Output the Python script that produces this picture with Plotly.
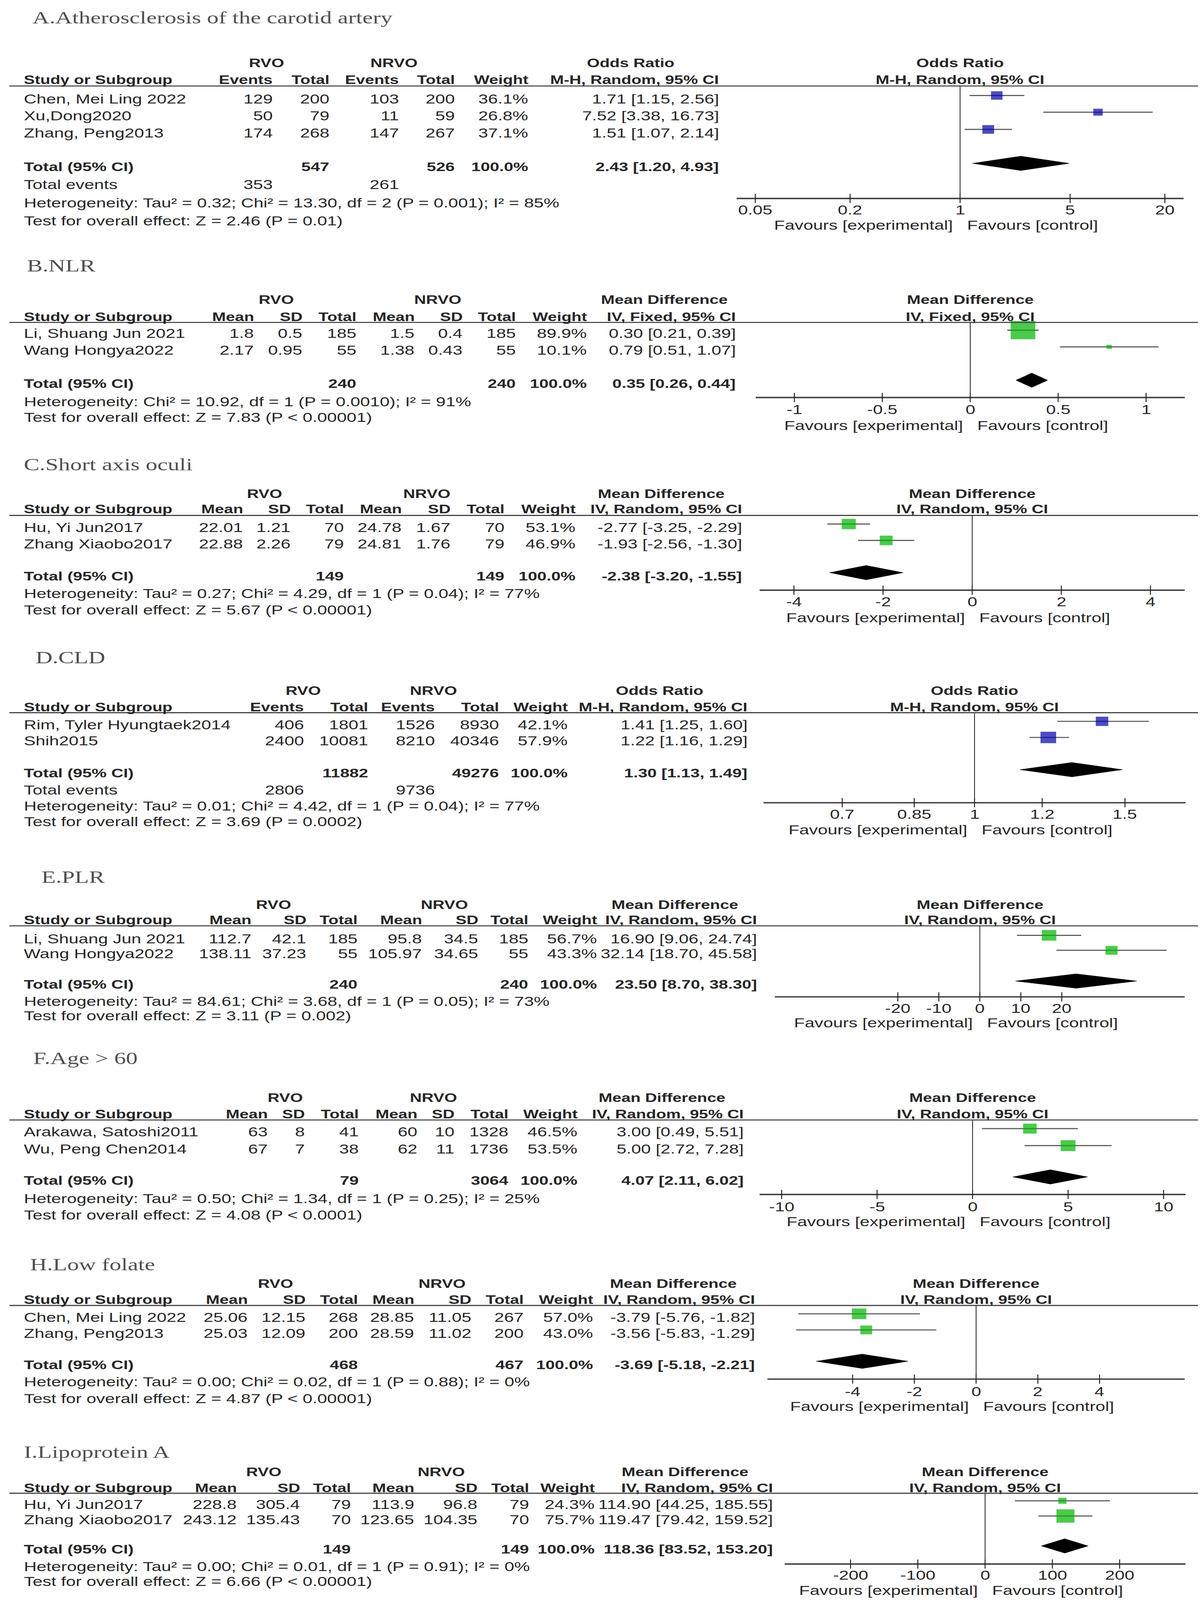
import math
import plotly.graph_objects as go

W, H = 3071, 5563
SANS = "Liberation Sans, Arial, Helvetica, sans-serif"
SERIF = "Liberation Serif, Times New Roman, serif"
TXT = "#262626"
TITLE_C = "#505050"
FS = 45
FS_HDR = 42
FS_TOT = 43
BLUE = "#0000A8"
GREEN = "#00B400"

# ======================= DATA =======================
# A. Atherosclerosis of the carotid artery (Odds Ratio, M-H random)
A_study = ["Chen, Mei Ling 2022", "Xu,Dong2020", "Zhang, Peng2013"]
A_rvo_events = [129, 50, 174]
A_rvo_total = [200, 79, 268]
A_nrvo_events = [103, 11, 147]
A_nrvo_total = [200, 59, 267]
A_weight = [36.1, 26.8, 37.1]
A_est = [1.71, 7.52, 1.51]
A_lo = [1.15, 3.38, 1.07]
A_hi = [2.56, 16.73, 2.14]
A_pooled = [2.43, 1.20, 4.93]
A_sum_total = [547, 526]
A_sum_events = [353, 261]
A_het = "Heterogeneity: Tau² = 0.32; Chi² = 13.30, df = 2 (P = 0.001); I² = 85%"
A_test = "Test for overall effect: Z = 2.46 (P = 0.01)"
A_ticks = [0.05, 0.2, 1, 5, 20]
A_ticktext = ["0.05", "0.2", "1", "5", "20"]

# B. NLR (Mean Difference, IV fixed)
B_study = ["Li, Shuang Jun 2021", "Wang Hongya2022"]
B_rvo_mean = [1.8, 2.17]
B_rvo_sd = [0.5, 0.95]
B_rvo_n = [185, 55]
B_nrvo_mean = [1.5, 1.38]
B_nrvo_sd = [0.4, 0.43]
B_nrvo_n = [185, 55]
B_weight = [89.9, 10.1]
B_est = [0.30, 0.79]
B_lo = [0.21, 0.51]
B_hi = [0.39, 1.07]
B_pooled = [0.35, 0.26, 0.44]
B_sum_total = [240, 240]
B_het = "Heterogeneity: Chi² = 10.92, df = 1 (P = 0.0010); I² = 91%"
B_test = "Test for overall effect: Z = 7.83 (P < 0.00001)"
B_ticks = [-1, -0.5, 0, 0.5, 1]
B_ticktext = ["-1", "-0.5", "0", "0.5", "1"]

# C. Short axis oculi
C_study = ["Hu, Yi Jun2017", "Zhang Xiaobo2017"]
C_rvo_mean = [22.01, 22.88]
C_rvo_sd = [1.21, 2.26]
C_rvo_n = [70, 79]
C_nrvo_mean = [24.78, 24.81]
C_nrvo_sd = [1.67, 1.76]
C_nrvo_n = [70, 79]
C_weight = [53.1, 46.9]
C_est = [-2.77, -1.93]
C_lo = [-3.25, -2.56]
C_hi = [-2.29, -1.30]
C_pooled = [-2.38, -3.20, -1.55]
C_sum_total = [149, 149]
C_het = "Heterogeneity: Tau² = 0.27; Chi² = 4.29, df = 1 (P = 0.04); I² = 77%"
C_test = "Test for overall effect: Z = 5.67 (P < 0.00001)"
C_ticks = [-4, -2, 0, 2, 4]
C_ticktext = ["-4", "-2", "0", "2", "4"]

# D. CLD (Odds Ratio)
D_study = ["Rim, Tyler Hyungtaek2014", "Shih2015"]
D_rvo_events = [406, 2400]
D_rvo_total = [1801, 10081]
D_nrvo_events = [1526, 8210]
D_nrvo_total = [8930, 40346]
D_weight = [42.1, 57.9]
D_est = [1.41, 1.22]
D_lo = [1.25, 1.16]
D_hi = [1.60, 1.29]
D_pooled = [1.30, 1.13, 1.49]
D_sum_total = [11882, 49276]
D_sum_events = [2806, 9736]
D_het = "Heterogeneity: Tau² = 0.01; Chi² = 4.42, df = 1 (P = 0.04); I² = 77%"
D_test = "Test for overall effect: Z = 3.69 (P = 0.0002)"
D_ticks = [0.7, 0.85, 1, 1.2, 1.5]
D_ticktext = ["0.7", "0.85", "1", "1.2", "1.5"]

# E. PLR
E_study = ["Li, Shuang Jun 2021", "Wang Hongya2022"]
E_rvo_mean = [112.7, 138.11]
E_rvo_sd = [42.1, 37.23]
E_rvo_n = [185, 55]
E_nrvo_mean = [95.8, 105.97]
E_nrvo_sd = [34.5, 34.65]
E_nrvo_n = [185, 55]
E_weight = [56.7, 43.3]
E_est = [16.90, 32.14]
E_lo = [9.06, 18.70]
E_hi = [24.74, 45.58]
E_pooled = [23.50, 8.70, 38.30]
E_sum_total = [240, 240]
E_het = "Heterogeneity: Tau² = 84.61; Chi² = 3.68, df = 1 (P = 0.05); I² = 73%"
E_test = "Test for overall effect: Z = 3.11 (P = 0.002)"
E_ticks = [-20, -10, 0, 10, 20]
E_ticktext = ["-20", "-10", "0", "10", "20"]

# F. Age > 60
F_study = ["Arakawa, Satoshi2011", "Wu, Peng Chen2014"]
F_rvo_mean = [63, 67]
F_rvo_sd = [8, 7]
F_rvo_n = [41, 38]
F_nrvo_mean = [60, 62]
F_nrvo_sd = [10, 11]
F_nrvo_n = [1328, 1736]
F_weight = [46.5, 53.5]
F_est = [3.00, 5.00]
F_lo = [0.49, 2.72]
F_hi = [5.51, 7.28]
F_pooled = [4.07, 2.11, 6.02]
F_sum_total = [79, 3064]
F_het = "Heterogeneity: Tau² = 0.50; Chi² = 1.34, df = 1 (P = 0.25); I² = 25%"
F_test = "Test for overall effect: Z = 4.08 (P < 0.0001)"
F_ticks = [-10, -5, 0, 5, 10]
F_ticktext = ["-10", "-5", "0", "5", "10"]

# H. Low folate
H_study = ["Chen, Mei Ling 2022", "Zhang, Peng2013"]
H_rvo_mean = [25.06, 25.03]
H_rvo_sd = [12.15, 12.09]
H_rvo_n = [268, 200]
H_nrvo_mean = [28.85, 28.59]
H_nrvo_sd = [11.05, 11.02]
H_nrvo_n = [267, 200]
H_weight = [57.0, 43.0]
H_est = [-3.79, -3.56]
H_lo = [-5.76, -5.83]
H_hi = [-1.82, -1.29]
H_pooled = [-3.69, -5.18, -2.21]
H_sum_total = [468, 467]
H_het = "Heterogeneity: Tau² = 0.00; Chi² = 0.02, df = 1 (P = 0.88); I² = 0%"
H_test = "Test for overall effect: Z = 4.87 (P < 0.00001)"
H_ticks = [-4, -2, 0, 2, 4]
H_ticktext = ["-4", "-2", "0", "2", "4"]

# I. Lipoprotein A
I_study = ["Hu, Yi Jun2017", "Zhang Xiaobo2017"]
I_rvo_mean = [228.8, 243.12]
I_rvo_sd = [305.4, 135.43]
I_rvo_n = [79, 70]
I_nrvo_mean = [113.9, 123.65]
I_nrvo_sd = [96.8, 104.35]
I_nrvo_n = [79, 70]
I_weight = [24.3, 75.7]
I_est = [114.90, 119.47]
I_lo = [44.25, 79.42]
I_hi = [185.55, 159.52]
I_pooled = [118.36, 83.52, 153.20]
I_sum_total = [149, 149]
I_het = "Heterogeneity: Tau² = 0.00; Chi² = 0.01, df = 1 (P = 0.91); I² = 0%"
I_test = "Test for overall effect: Z = 6.66 (P < 0.00001)"
I_ticks = [-200, -100, 0, 100, 200]
I_ticktext = ["-200", "-100", "0", "100", "200"]

# ======================= PANEL OPTIONS (built from the arrays) =======================
MD_R = "IV, Random, 95% CI"
PANELS = [
    dict(key="A", title="A.Atherosclerosis of the carotid artery", kind="bin", effect="Odds Ratio",
         method="M-H, Random, 95% CI", log=True, color=BLUE, study=A_study,
         cells=[A_rvo_events, A_rvo_total, A_nrvo_events, A_nrvo_total], weight=A_weight,
         est=A_est, lo=A_lo, hi=A_hi, pooled=A_pooled, sum_total=A_sum_total,
         sum_events=A_sum_events, het=A_het, test=A_test, ticks=A_ticks, ticktext=A_ticktext),
    dict(key="B", title="B.NLR", kind="cont", effect="Mean Difference", method="IV, Fixed, 95% CI",
         log=False, color=GREEN, study=B_study,
         cells=[B_rvo_mean, B_rvo_sd, B_rvo_n, B_nrvo_mean, B_nrvo_sd, B_nrvo_n], weight=B_weight,
         est=B_est, lo=B_lo, hi=B_hi, pooled=B_pooled, sum_total=B_sum_total,
         het=B_het, test=B_test, ticks=B_ticks, ticktext=B_ticktext),
    dict(key="C", title="C.Short axis oculi", kind="cont", effect="Mean Difference", method=MD_R,
         log=False, color=GREEN, study=C_study,
         cells=[C_rvo_mean, C_rvo_sd, C_rvo_n, C_nrvo_mean, C_nrvo_sd, C_nrvo_n], weight=C_weight,
         est=C_est, lo=C_lo, hi=C_hi, pooled=C_pooled, sum_total=C_sum_total,
         het=C_het, test=C_test, ticks=C_ticks, ticktext=C_ticktext),
    dict(key="D", title="D.CLD", kind="bin", effect="Odds Ratio", method="M-H, Random, 95% CI",
         log=True, color=BLUE, study=D_study,
         cells=[D_rvo_events, D_rvo_total, D_nrvo_events, D_nrvo_total], weight=D_weight,
         est=D_est, lo=D_lo, hi=D_hi, pooled=D_pooled, sum_total=D_sum_total,
         sum_events=D_sum_events, het=D_het, test=D_test, ticks=D_ticks, ticktext=D_ticktext),
    dict(key="E", title="E.PLR", kind="cont", effect="Mean Difference", method=MD_R,
         log=False, color=GREEN, study=E_study,
         cells=[E_rvo_mean, E_rvo_sd, E_rvo_n, E_nrvo_mean, E_nrvo_sd, E_nrvo_n], weight=E_weight,
         est=E_est, lo=E_lo, hi=E_hi, pooled=E_pooled, sum_total=E_sum_total,
         het=E_het, test=E_test, ticks=E_ticks, ticktext=E_ticktext),
    dict(key="F", title="F.Age > 60", kind="cont", effect="Mean Difference", method=MD_R,
         log=False, color=GREEN, study=F_study,
         cells=[F_rvo_mean, F_rvo_sd, F_rvo_n, F_nrvo_mean, F_nrvo_sd, F_nrvo_n], weight=F_weight,
         est=F_est, lo=F_lo, hi=F_hi, pooled=F_pooled, sum_total=F_sum_total,
         het=F_het, test=F_test, ticks=F_ticks, ticktext=F_ticktext),
    dict(key="H", title="H.Low folate", kind="cont", effect="Mean Difference", method=MD_R,
         log=False, color=GREEN, study=H_study,
         cells=[H_rvo_mean, H_rvo_sd, H_rvo_n, H_nrvo_mean, H_nrvo_sd, H_nrvo_n], weight=H_weight,
         est=H_est, lo=H_lo, hi=H_hi, pooled=H_pooled, sum_total=H_sum_total,
         het=H_het, test=H_test, ticks=H_ticks, ticktext=H_ticktext),
    dict(key="I", title="I.Lipoprotein A", kind="cont", effect="Mean Difference", method=MD_R,
         log=False, color=GREEN, study=I_study,
         cells=[I_rvo_mean, I_rvo_sd, I_rvo_n, I_nrvo_mean, I_nrvo_sd, I_nrvo_n], weight=I_weight,
         est=I_est, lo=I_lo, hi=I_hi, pooled=I_pooled, sum_total=I_sum_total,
         het=I_het, test=I_test, ticks=I_ticks, ticktext=I_ticktext),
]

# pixel geometry of each panel (layout only)
GEO = {
    "A": dict(title=(81, 62), grp=219, hdr=277, hline=299, rows=[344, 402, 462], total=580, events=643,
              het=705, test=767, axis=690, tick=731, fav=784,
              cols=[700, 845, 1023, 1166, 1354, 1842], grp_x=[682, 1008], eff_x=1614,
              dom=[1885, 3029], half=1.42, sq=30),
    "B": dict(title=(67, 924), grp=1043, hdr=1102, hline=1121, rows=[1160, 1218], total=1334,
              het=1397, test=1452, axis=1382, tick=1424, fav=1479,
              cols=[652, 776, 914, 1063, 1186, 1322, 1504, 1885], grp_x=[707, 1120], eff_x=1700,
              dom=[1934, 3032], half=1.22, sq=63),
    "C": dict(title=(59, 1615), grp=1716, hdr=1771, hline=1792, rows=[1834, 1891], total=2003,
              het=2063, test=2122, axis=2052, tick=2093, fav=2148,
              cols=[624, 746, 882, 1030, 1155, 1293, 1475, 1901], grp_x=[677, 1092], eff_x=1692,
              dom=[1944, 3032], half=4.77, sq=36),
    "D": dict(title=(89, 2286), grp=2401, hdr=2458, hline=2478, rows=[2520, 2576], total=2688, events=2747,
              het=2803, test=2857, axis=2791, tick=2831, fav=2885,
              cols=[780, 944, 1115, 1279, 1455, 1915], grp_x=[776, 1109], eff_x=1688,
              dom=[1954, 3034], half=0.247, sq=40),
    "E": dict(title=(104, 3050), grp=3145, hdr=3199, hline=3219, rows=[3264, 3316], total=3423,
              het=3481, test=3532, axis=3466, tick=3506, fav=3557,
              cols=[645, 786, 917, 1082, 1226, 1354, 1530, 1939], grp_x=[700, 1137], eff_x=1727,
              dom=[1983, 3032], half=50, sq=37),
    "F": dict(title=(83, 3679), grp=3817, hdr=3874, hline=3894, rows=[3936, 3995], total=4104,
              het=4167, test=4224, axis=4153, tick=4196, fav=4247,
              cols=[687, 782, 920, 1070, 1165, 1303, 1480, 1905], grp_x=[730, 1109], eff_x=1694,
              dom=[1944, 3034], half=11.15, sq=38),
    "H": dict(title=(75, 4397), grp=4463, hdr=4519, hline=4539, rows=[4580, 4636], total=4745,
              het=4804, test=4862, axis=4795, tick=4838, fav=4890,
              cols=[636, 784, 918, 1062, 1208, 1342, 1520, 1934], grp_x=[705, 1131], eff_x=1723,
              dom=[1964, 3032], half=6.76, sq=37),
    "I": dict(title=(59, 5049), grp=5118, hdr=5173, hline=5192, rows=[5230, 5283], total=5387,
              het=5446, test=5498, axis=5438, tick=5477, fav=5529,
              cols=[608, 770, 900, 1062, 1224, 1356, 1524, 1980], grp_x=[675, 1129], eff_x=1753,
              dom=[2008, 3034], half=298, sq=46),
}

LEFT_X = 59
MARK_DY = -12      # marks sit slightly above text centre
DIA_H = 25         # half height of diamond (px)
TICK_H = 16


def P(py):
    return 1 - py / H


def XP(px):
    return px / W


fig = go.Figure()
ann = []
shapes = []
axes = {}


def txt(x, y, s, anchor="left", bold=False, size=FS, color=TXT, family=SANS,
        xref="paper", xshift=0):
    ann.append(dict(x=x, y=y, xref=xref, yref="paper", text=(f"<b>{s}</b>" if bold else s),
                    showarrow=False, xanchor=anchor, yanchor="middle", xshift=xshift,
                    font=dict(family=family, size=size, color=color)))


def est_txt(e, l, h):
    return f"{e:.2f} [{l:.2f}, {h:.2f}]"


for k, p in enumerate(PANELS, start=1):
    g = GEO[p["key"]]
    xa = "x" if k == 1 else f"x{k}"
    ya = "y" if k == 1 else f"y{k}"
    xname = "xaxis" if k == 1 else f"xaxis{k}"
    yname = "yaxis" if k == 1 else f"yaxis{k}"
    half = g["half"]
    if p["log"]:
        null_val, null_ann = 1, 0
        edge = [10 ** -half, 10 ** half]
    else:
        null_val, null_ann = 0, 0
        edge = [-half, half]
    bottom = g["axis"] + 30
    axes[xname] = dict(domain=[XP(g["dom"][0]), XP(g["dom"][1])], range=[-half, half],
                       type="log" if p["log"] else "linear", visible=False, anchor=ya,
                       fixedrange=True)
    axes[yname] = dict(domain=[P(bottom), P(g["hline"])], range=[bottom, g["hline"]],
                       visible=False, anchor=xa, fixedrange=True)
    common = dict(xaxis=xa, yaxis=ya, showlegend=False, hoverinfo="skip")

    # null line
    fig.add_trace(go.Scatter(x=[null_val, null_val], y=[g["hline"], g["axis"]], mode="lines",
                             line=dict(color="#1e1e1e", width=2), **common))
    # axis line
    fig.add_trace(go.Scatter(x=edge, y=[g["axis"], g["axis"]], mode="lines",
                             line=dict(color="#404040", width=5), **common))
    # tick marks
    tx, ty = [], []
    for t in p["ticks"]:
        tx += [t, t, None]
        ty += [g["axis"] - TICK_H, g["axis"] + TICK_H, None]
    fig.add_trace(go.Scatter(x=tx, y=ty, mode="lines", line=dict(color="#222222", width=2.5),
                             cliponaxis=False, **common))
    # confidence intervals
    cx, cy = [], []
    for i in range(len(p["study"])):
        ym = g["rows"][i] + MARK_DY
        cx += [p["lo"][i], p["hi"][i], None]
        cy += [ym, ym, None]
    fig.add_trace(go.Scatter(x=cx, y=cy, mode="lines", line=dict(color="#606060", width=4),
                             **common))
    # squares (area grows with weight)
    wmax = max(p["weight"])
    sizes = [g["sq"] * (w / wmax) ** 0.7 for w in p["weight"]]
    fig.add_trace(go.Scatter(x=p["est"], y=[r + MARK_DY for r in g["rows"]], mode="markers",
                             marker=dict(symbol="square", size=sizes, color=p["color"],
                                         line=dict(width=0)),
                             cliponaxis=False, **common))
    # pooled diamond
    pe, pl, ph = p["pooled"]
    yc = g["total"] + MARK_DY
    fig.add_trace(go.Scatter(x=[pl, pe, ph, pe, pl], y=[yc, yc - DIA_H, yc, yc + DIA_H, yc],
                             mode="lines", fill="toself", fillcolor="black",
                             line=dict(color="black", width=1), **common))

    # ---------------- text ----------------
    tx0, ty0 = g["title"]
    txt(XP(tx0), P(ty0), p["title"], "left", size=60, color=TITLE_C, family=SERIF)
    cols = g["cols"]
    ncell = len(p["cells"])
    if p["kind"] == "bin":
        hdrs = ["Events", "Total", "Events", "Total"]
        tot_idx = [1, 3]
        ev_idx = [0, 2]
    else:
        hdrs = ["Mean", "SD", "Total", "Mean", "SD", "Total"]
        tot_idx = [2, 5]
        ev_idx = None
    txt(XP(g["grp_x"][0]), P(g["grp"]), "RVO", "center", bold=True, size=FS_HDR)
    txt(XP(g["grp_x"][1]), P(g["grp"]), "NRVO", "center", bold=True, size=FS_HDR)
    txt(XP(g["eff_x"]), P(g["grp"]), p["effect"], "center", bold=True, size=FS_HDR)
    txt(null_ann, P(g["grp"]), p["effect"], "center", bold=True, xref=xa, size=FS_HDR)
    txt(XP(LEFT_X), P(g["hdr"]), "Study or Subgroup", "left", bold=True, size=FS_HDR)
    for j, hname in enumerate(hdrs):
        txt(XP(cols[j]), P(g["hdr"]), hname, "right", bold=True, size=FS_HDR)
    txt(XP(cols[ncell]), P(g["hdr"]), "Weight", "right", bold=True, size=FS_HDR)
    txt(XP(cols[ncell + 1]), P(g["hdr"]), p["method"], "right", bold=True, size=FS_HDR)
    txt(null_ann, P(g["hdr"]), p["method"], "center", bold=True, xref=xa, size=FS_HDR)
    shapes.append(dict(type="line", xref="paper", yref="paper", x0=XP(24), x1=XP(3066),
                       y0=P(g["hline"]), y1=P(g["hline"]),
                       line=dict(color="#454545", width=4)))

    for i, name in enumerate(p["study"]):
        y = P(g["rows"][i])
        txt(XP(LEFT_X), y, name, "left")
        for j, col in enumerate(p["cells"]):
            txt(XP(cols[j]), y, str(col[i]), "right")
        txt(XP(cols[ncell]), y, f"{p['weight'][i]:.1f}%", "right")
        txt(XP(cols[ncell + 1]), y, est_txt(p["est"][i], p["lo"][i], p["hi"][i]), "right")

    y = P(g["total"])
    txt(XP(LEFT_X), y, "Total (95% CI)", "left", bold=True, size=FS_TOT)
    for j, v in zip(tot_idx, p["sum_total"]):
        txt(XP(cols[j]), y, str(v), "right", bold=True, size=FS_TOT)
    txt(XP(cols[ncell]), y, f"{sum(p['weight']):.1f}%", "right", bold=True, size=FS_TOT)
    txt(XP(cols[ncell + 1]), y, est_txt(pe, pl, ph), "right", bold=True, size=FS_TOT)

    if ev_idx is not None:
        y = P(g["events"])
        txt(XP(LEFT_X), y, "Total events", "left")
        for j, v in zip(ev_idx, p["sum_events"]):
            txt(XP(cols[j]), y, str(v), "right")

    txt(XP(LEFT_X), P(g["het"]), p["het"], "left")
    txt(XP(LEFT_X), P(g["test"]), p["test"], "left")

    for t, lab in zip(p["ticks"], p["ticktext"]):
        xv = math.log10(t) if p["log"] else t
        txt(xv, P(g["tick"]), lab, "center", xref=xa)
    txt(null_ann, P(g["fav"]), "Favours [experimental]", "right", xref=xa, xshift=-16)
    txt(null_ann, P(g["fav"]), "Favours [control]", "left", xref=xa, xshift=16)

fig.update_layout(
    width=W, height=H, autosize=False,
    margin=dict(l=0, r=0, t=0, b=0, pad=0),
    paper_bgcolor="white", plot_bgcolor="rgba(0,0,0,0)",
    showlegend=False, annotations=ann, shapes=shapes,
    **axes,
)

# The browser viewport may be shorter than the figure; fit the full figure into it
FIT = ("document.body.style.margin='0';"
       "document.documentElement.style.overflow='hidden';"
       "document.body.style.overflow='hidden';"
       "var gd=document.getElementById('{plot_id}');"
       "var s=Math.min(1, window.innerHeight/" + str(H) + ");"
       "gd.style.transformOrigin='0 0';"
       "gd.style.transform='scale(1,'+s+')';")

fig.write_html("out.html", config={"displayModeBar": False, "staticPlot": True},
               post_script=FIT)
